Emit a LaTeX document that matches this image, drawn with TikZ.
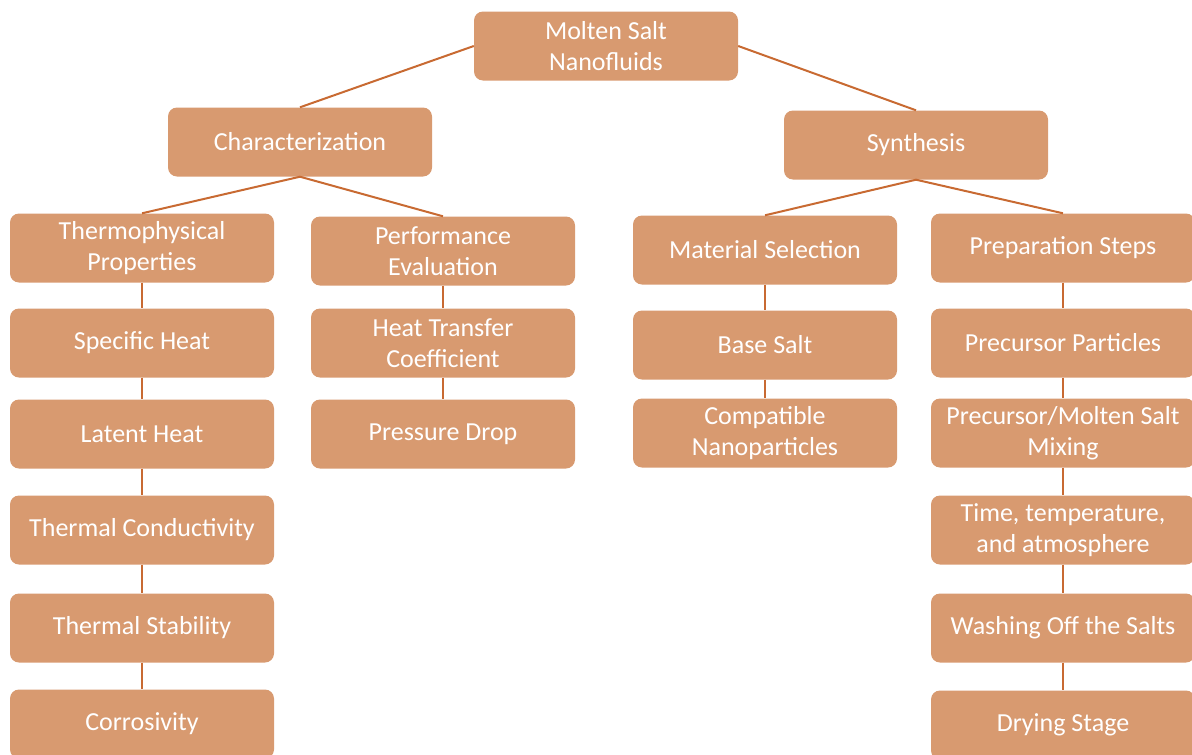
\documentclass[tikz,border=0pt]{standalone}
\usepackage{fontspec}
\setmainfont{Carlito}
\definecolor{boxfill}{HTML}{D89A70}
\definecolor{linkcol}{HTML}{C86A32}

\tikzset{
    topic/.style={rectangle, rounded corners=9pt, fill=boxfill, text=white,
        minimum width=264pt, minimum height=69pt, inner sep=0pt, align=center,
        font=\fontsize{26}{31}\selectfont},
    link/.style={draw=linkcol, line width=2pt}
}

\begin{document}
\begin{tikzpicture}[x=1pt,y=-1pt]
    \useasboundingbox (0,0) rectangle (1192,755);

    %top levels
        \node[topic] (root) at (606,46) {Molten Salt\\Nanofluids};
        \node[topic] (charac) at (300,142) {Characterization};
        \node[topic] (synth) at (916,145) {Synthesis};

    %characterization branch
        \node[topic] (thermo) at (142,248) {Thermophysical\\Properties};
        \node[topic] (cp) at (142,343) {Specific Heat};
        \node[topic] (latent) at (142,434) {Latent Heat};
        \node[topic] (cond) at (142,530) {Thermal Conductivity};
        \node[topic] (stab) at (142,628) {Thermal Stability};
        \node[topic] (corr) at (142,724) {Corrosivity};

        \node[topic] (perf) at (443,251) {Performance\\Evaluation};
        \node[topic] (htc) at (443,343) {Heat Transfer\\Coefficient};
        \node[topic] (dp) at (443,434) {Pressure Drop};

    %synthesis branch
        \node[topic] (mat) at (765,250) {Material Selection};
        \node[topic] (base) at (765,345) {Base Salt};
        \node[topic] (nano) at (765,433) {Compatible\\Nanoparticles};

        \node[topic] (prep) at (1063,248) {Preparation Steps};
        \node[topic] (prec) at (1063,343) {Precursor Particles};
        \node[topic] (mix) at (1063,433) {Precursor/Molten Salt\\Mixing};
        \node[topic] (cond2) at (1063,530) {Time, temperature,\\and atmosphere};
        \node[topic] (wash) at (1063,628) {Washing Off the Salts};
        \node[topic] (dry) at (1063,725) {Drying Stage};

    %links
        \draw[link] (root.west) -- (charac.north);
        \draw[link] (root.east) -- (synth.north);
        \draw[link] (charac.south) -- (thermo.north);
        \draw[link] (charac.south) -- (perf.north);
        \draw[link] (synth.south) -- (mat.north);
        \draw[link] (synth.south) -- (prep.north);

        \draw[link] (thermo) -- (cp) -- (latent) -- (cond) -- (stab) -- (corr);
        \draw[link] (perf) -- (htc) -- (dp);
        \draw[link] (mat) -- (base) -- (nano);
        \draw[link] (prep) -- (prec) -- (mix) -- (cond2) -- (wash) -- (dry);

\end{tikzpicture}
\end{document}
